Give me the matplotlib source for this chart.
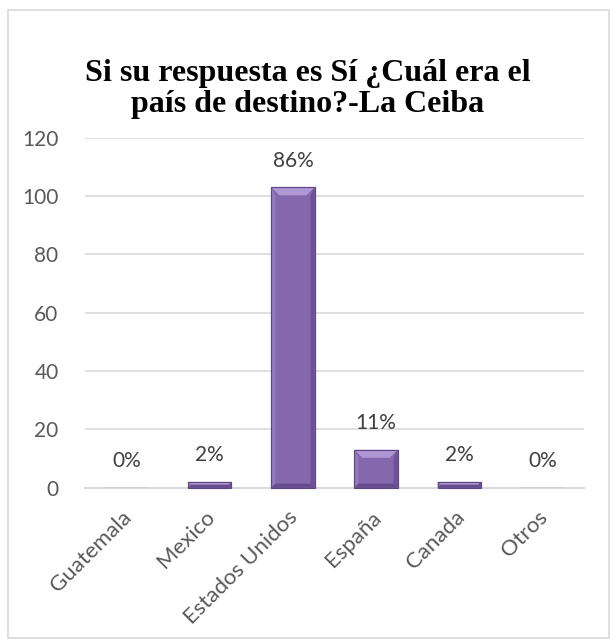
import matplotlib
matplotlib.use("Agg")
import matplotlib.pyplot as plt
from matplotlib.patches import Rectangle, Polygon
from matplotlib.transforms import IdentityTransform, ScaledTranslation

categories = ["Guatemala", "Mexico", "Estados Unidos", "España", "Canada", "Otros"]
values = [0, 2, 103, 13, 2, 0]
pct_labels = ["0%", "2%", "86%", "11%", "2%", "0%"]
yticks = [0, 20, 40, 60, 80, 100, 120]
title = "Si su respuesta es Sí ¿Cuál era el\npaís de destino?-La Ceiba"

fig = plt.figure(figsize=(6.10, 6.39), dpi=100)
fig.patches.append(Rectangle((8/610, 1 - 638/639), 601/610, 628/639, transform=fig.transFigure,
                             fill=False, edgecolor="#d9d9d9", linewidth=1.2))
ax = fig.add_axes([85/610, 1 - 487.7/639, (584 - 85)/610, (487.7 - 137.7)/639])

x = list(range(len(categories)))
bars = ax.bar(x, values, width=0.52, color="#8467ad", edgecolor="#5d4681", linewidth=0.8, zorder=3)

ax.set_ylim(0, 120)
ax.set_xlim(-0.5, len(categories) - 0.5)
ax.set_yticks(yticks)
ax.yaxis.grid(True, color="#d9d9d9", linewidth=1.2, zorder=0)
ax.set_axisbelow(True)
for s in ["top", "right", "left"]:
    ax.spines[s].set_visible(False)
ax.spines["bottom"].set_color("#d9d9d9")
ax.spines["bottom"].set_linewidth(1.5)
ax.tick_params(axis="both", length=0, labelcolor="#595959")
ax.tick_params(axis="y", pad=19, labelsize=15)
ax.tick_params(axis="x", pad=14, labelsize=16)
ax.set_xticks(x)
ax.set_xticklabels(categories, rotation=45, ha="right", rotation_mode="anchor")
shift = ScaledTranslation(-5/100, 0, fig.dpi_scale_trans)
for lab in ax.get_xticklabels():
    lab.set_fontfamily("Lato")
    lab.set_transform(lab.get_transform() + shift)
for lab in ax.get_yticklabels():
    lab.set_fontfamily("Lato")

for xi, v, lab in zip(x, values, pct_labels):
    ax.annotate(lab, (xi, v), xytext=(0, 19), textcoords="offset points",
                ha="center", va="center", fontsize=15, color="#404040", family="Lato")

fig.text(0.5 + 3/610, 1 - 89/639, title, ha="center", va="center", fontsize=23, fontweight="bold",
         family="Liberation Serif", linespacing=1.1)

# bevel shading derived from each bar's own geometry
fig.canvas.draw()
for b in bars:
    if b.get_height() <= 0:
        continue
    (x0, y0), (x1, y1) = ax.transData.transform([(b.get_x(), 0), (b.get_x() + b.get_width(), b.get_height())])
    d = min(8.0, (y1 - y0) / 2.0, (x1 - x0) / 2.0)
    s = min(4.0, d)
    facets = [
        ([(x0, y1), (x1, y1), (x1 - d, y1 - d), (x0 + d, y1 - d)], "#ad98d3"),
        ([(x0, y0), (x0, y1), (x0 + s, y1 - d), (x0 + s, y0 + s)], "#9279bd"),
        ([(x1, y0), (x1, y1), (x1 - s, y1 - d), (x1 - s, y0 + s)], "#6c5294"),
        ([(x0, y0), (x1, y0), (x1 - s, y0 + s), (x0 + s, y0 + s)], "#654c8b"),
    ]
    for pts, col in facets:
        fig.patches.append(Polygon(pts, closed=True, transform=IdentityTransform(),
                                   facecolor=col, edgecolor="none", zorder=4))
    fig.patches.append(Polygon([(x0, y0), (x1, y0), (x1, y1), (x0, y1)], closed=True,
                               transform=IdentityTransform(), fill=False,
                               edgecolor="#5d4681", linewidth=0.8, zorder=5))

fig.savefig("out.png", dpi=100)
